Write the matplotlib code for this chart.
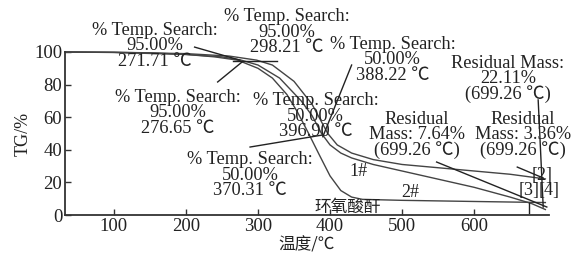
import matplotlib
matplotlib.use("Agg")
import matplotlib.pyplot as plt

# TG curves (temperature in C, mass in %)
t_epoxy = [32, 100, 150, 200, 240, 271.7, 300, 320, 340, 355, 370.3, 385, 400, 415, 430, 445, 500, 600, 699]
tg_epoxy = [100, 99.8, 99.5, 98.5, 97, 95, 90, 84, 74, 63, 50, 37, 24, 15, 11, 9.6, 9.0, 8.3, 7.64]

t_s2 = [32, 100, 200, 250, 276.7, 300, 330, 360, 375, 388.2, 400, 415, 430, 460, 500, 550, 600, 650, 680, 699]
tg_s2 = [100, 99.7, 98.5, 97, 95, 92, 84, 70, 61, 50, 43, 38, 35, 31, 27, 22, 17, 11, 7, 3.36]

t_s1 = [32, 100, 200, 260, 298.2, 320, 350, 375, 396.9, 410, 430, 460, 500, 550, 600, 650, 699]
tg_s1 = [100, 99.8, 99, 97.5, 95, 92, 82, 68, 50, 43, 38, 34, 31, 29, 27, 25, 22.11]

x_ticks = [100, 200, 300, 400, 500, 600]
y_ticks = [0, 20, 40, 60, 80, 100]

LC = "#444444"
SERIF = ["Liberation Serif", "Noto Sans CJK SC"]
CJK = ["Noto Sans CJK SC", "DejaVu Sans"]

fig = plt.figure(figsize=(5.8, 2.57), dpi=100)
ax = fig.add_axes([0.112, 0.1634, 0.8345, 0.6343])

for t, g in [(t_epoxy, tg_epoxy), (t_s2, tg_s2), (t_s1, tg_s1)]:
    ax.plot(t, g, color=LC, lw=1.0, clip_on=False)

ax.set_xlim(32, 704)
ax.set_ylim(0, 100)
ax.set_xticks(x_ticks)
ax.set_yticks(y_ticks)
ax.spines["top"].set_visible(False)
ax.spines["right"].set_visible(False)
for s in ["left", "bottom"]:
    ax.spines[s].set_color("#333")
    ax.spines[s].set_linewidth(1.3)
ax.tick_params(direction="in", length=4, width=1.0, color="#333", labelsize=13.5, pad=2)
for lab in ax.get_xticklabels() + ax.get_yticklabels():
    lab.set_family(SERIF)
    lab.set_color("#222")

ax.set_ylabel("TG/%", family=SERIF, fontsize=13, color="#222", labelpad=2)
ax.set_xlabel("温度/℃", family=CJK, fontsize=12, color="#222", labelpad=1)

tk = dict(family=SERIF, fontsize=13.2, color="#222", ha="center", va="center",
          linespacing=0.88, clip_on=False)

# search annotations
ax.text(157, 103.7, "% Temp. Search:\n95.00%\n271.71 ℃", **tk)
ax.text(340, 112.0, "% Temp. Search:\n95.00%\n298.21 ℃", **tk)
ax.text(487, 95.1, "% Temp. Search:\n50.00%\n388.22 ℃", **tk)
ax.text(189, 62.6, "% Temp. Search:\n95.00%\n276.65 ℃", **tk)
ax.text(380, 60.7, "% Temp. Search:\n50.00%\n396.90 ℃", **tk)
ax.text(289, 24.5, "% Temp. Search:\n50.00%\n370.31 ℃", **tk)
ax.text(647, 83.4, "Residual Mass:\n22.11%\n(699.26 ℃)", **tk)
ax.text(521, 49.1, "Residual\nMass: 7.64%\n(699.26 ℃)", **tk)
ax.text(668, 49.1, "Residual\nMass: 3.36%\n(699.26 ℃)", **tk)

# leader lines
leaders = [((212, 103), (275, 95)), ((265, 94.5), (326, 94.5)), ((244, 81.6), (278, 93.9)),
           ((430, 92), (390, 48)), ((289, 41.7), (390, 49.1)), ((689, 70.6), (696, 4.9)),
           ((548, 32.5), (701, 4.9)), ((660, 29.4), (696, 22.7)), ((676, 1.5), (676, 7.5))]
for (x0, y0), (x1, y1) in leaders:
    ax.plot([x0, x1], [y0, y1], color="#222", lw=1.0, clip_on=False)

lk = dict(family=SERIF, fontsize=13, color="#222", ha="center", va="center", clip_on=False)
ax.text(440, 26.4, "1#", **lk)
ax.text(511, 13.5, "2#", **lk)
ax.text(694, 24.5, "[2]", **lk)
ax.text(676, 15.3, "[3]", **lk)
ax.text(704, 15.3, "[4]", **lk)
ax.text(425, 4.9, "环氧酸酐", family=CJK, fontsize=12, color="#222", ha="center", va="center")

fig.savefig("out.png", dpi=100)
